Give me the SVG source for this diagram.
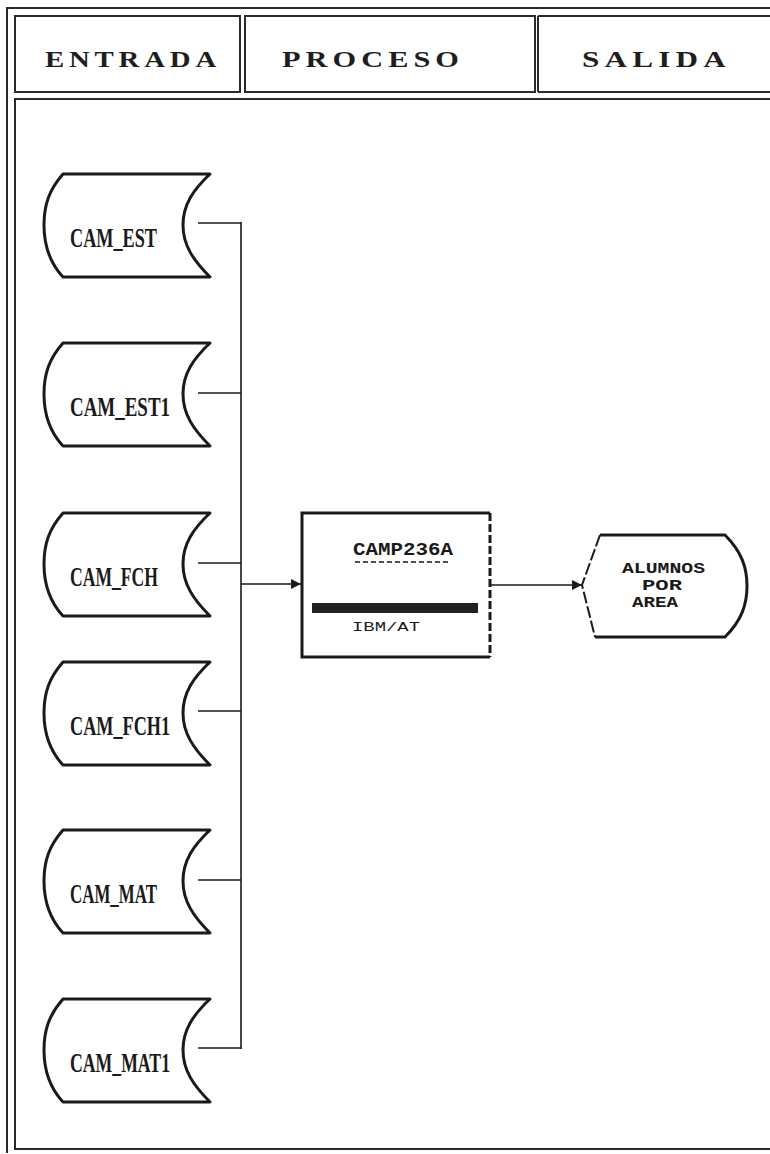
<svg xmlns="http://www.w3.org/2000/svg" xmlns:xlink="http://www.w3.org/1999/xlink" width="770" height="1154" viewBox="0 0 770 1154">
<style>
  .frame { fill: none; stroke: #2a2a2a; stroke-width: 2; }
  .hdr { font-family: "Liberation Serif", "DejaVu Serif", serif; font-weight: bold; font-size: 24px; letter-spacing: 4px; fill: #1e1e1e; }
  .store { fill: #ffffff; stroke: #1a1a1a; stroke-width: 3; stroke-linejoin: round; }
  .slabel { font-family: "Liberation Serif", "DejaVu Serif", serif; font-weight: bold; font-size: 28px; fill: #1a1a1a; }
  .conn { fill: none; stroke: #1a1a1a; stroke-width: 1.6; }
  .proc { fill: #ffffff; stroke: #1a1a1a; stroke-width: 3; }
  .dot { font-family: "Liberation Mono", "DejaVu Sans Mono", monospace; fill: #1a1a1a; }
</style>
<defs>
  <path id="storeShape" d="M63,0 L210,0 C193,16 183,31 183,51 C183,71 193,86 210,103 L63,103 C49,88 44,71 44,51 C44,31 49,16 63,0 Z"/>
  <marker id="arrow" viewBox="0 0 10 10" refX="10" refY="5" markerWidth="10" markerHeight="10" markerUnits="userSpaceOnUse" orient="auto">
    <path d="M0,0 L10,5 L0,10 Z" fill="#1a1a1a"/>
  </marker>
</defs>
<rect x="0" y="0" width="770" height="1154" fill="#ffffff"/>

<g id="frame">
  <path class="frame" d="M780,8 L7,8 L7,1153"/>
  <rect class="frame" x="15" y="16" width="225" height="76"/>
  <rect class="frame" x="245" y="16" width="290" height="76"/>
  <line class="frame" x1="538" y1="16" x2="538" y2="92"/>
  <path class="frame" d="M538,16 L780,16 M538,92 L780,92"/>
  <path class="frame" d="M780,99 L15,99 L15,1149 L780,1149"/>
</g>

<g id="headers">
  <text class="hdr" x="45" y="67" textLength="176" lengthAdjust="spacingAndGlyphs">ENTRADA</text>
  <text class="hdr" x="282" y="67" textLength="182" lengthAdjust="spacingAndGlyphs">PROCESO</text>
  <text class="hdr" x="582" y="67" textLength="149" lengthAdjust="spacingAndGlyphs">SALIDA</text>
</g>

<g id="connectors">
  <line class="conn" x1="198" y1="223" x2="241" y2="223"/>
  <line class="conn" x1="198" y1="393" x2="241" y2="393"/>
  <line class="conn" x1="198" y1="563" x2="241" y2="563"/>
  <line class="conn" x1="198" y1="711" x2="241" y2="711"/>
  <line class="conn" x1="198" y1="880" x2="241" y2="880"/>
  <line class="conn" x1="198" y1="1048" x2="241" y2="1048"/>
  <line class="conn" x1="241" y1="222" x2="241" y2="1049"/>
  <line class="conn" x1="241" y1="584" x2="301" y2="584" marker-end="url(#arrow)"/>
  <line class="conn" x1="491" y1="585" x2="582" y2="585" marker-end="url(#arrow)"/>
</g>

<g id="cam_est" transform="translate(0,174)">
  <use xlink:href="#storeShape" class="store"/>
  <text class="slabel" x="70" y="73" textLength="87" lengthAdjust="spacingAndGlyphs">CAM_EST</text>
</g>
<g id="cam_est1" transform="translate(0,343)">
  <use xlink:href="#storeShape" class="store"/>
  <text class="slabel" x="70" y="73" textLength="100" lengthAdjust="spacingAndGlyphs">CAM_EST1</text>
</g>
<g id="cam_fch" transform="translate(0,513)">
  <use xlink:href="#storeShape" class="store"/>
  <text class="slabel" x="70" y="73" textLength="88" lengthAdjust="spacingAndGlyphs">CAM_FCH</text>
</g>
<g id="cam_fch1" transform="translate(0,662)">
  <use xlink:href="#storeShape" class="store"/>
  <text class="slabel" x="70" y="73" textLength="100" lengthAdjust="spacingAndGlyphs">CAM_FCH1</text>
</g>
<g id="cam_mat" transform="translate(0,830)">
  <use xlink:href="#storeShape" class="store"/>
  <text class="slabel" x="70" y="73" textLength="87" lengthAdjust="spacingAndGlyphs">CAM_MAT</text>
</g>
<g id="cam_mat1" transform="translate(0,999)">
  <use xlink:href="#storeShape" class="store"/>
  <text class="slabel" x="70" y="73" textLength="100" lengthAdjust="spacingAndGlyphs">CAM_MAT1</text>
</g>

<g id="camp236a">
  <path class="proc" d="M490,513 L302,513 L302,657 L490,657"/>
  <line x1="490" y1="513" x2="490" y2="657" stroke="#1a1a1a" stroke-width="3" stroke-dasharray="8 3"/>
  <text class="dot" x="353" y="555" font-size="18" font-weight="bold" textLength="100" lengthAdjust="spacingAndGlyphs">CAMP236A</text>
  <line x1="355" y1="562" x2="451" y2="562" stroke="#1a1a1a" stroke-width="1.5" stroke-dasharray="5 3"/>
  <rect x="312" y="603" width="166" height="10" fill="#222222"/>
  <text class="dot" x="352" y="631" font-size="12" fill="#333333" textLength="68" lengthAdjust="spacingAndGlyphs">IBM/AT</text>
</g>

<g id="alumnos_por_area">
  <path d="M600,535 L725,535 C742,552 747,568 747,586 C747,604 742,620 725,637 L595,637" fill="none" stroke="#1a1a1a" stroke-width="3"/>
  <path d="M600,535 L582,585 L595,637" fill="none" stroke="#1a1a1a" stroke-width="2" stroke-dasharray="12 3"/>
  <text class="dot" x="622" y="573" font-size="14" font-weight="bold" textLength="83" lengthAdjust="spacingAndGlyphs">ALUMNOS</text>
  <text class="dot" x="642" y="590" font-size="14" font-weight="bold" textLength="40" lengthAdjust="spacingAndGlyphs">POR</text>
  <text class="dot" x="632" y="607" font-size="14" font-weight="bold" textLength="46" lengthAdjust="spacingAndGlyphs">AREA</text>
</g>
</svg>
